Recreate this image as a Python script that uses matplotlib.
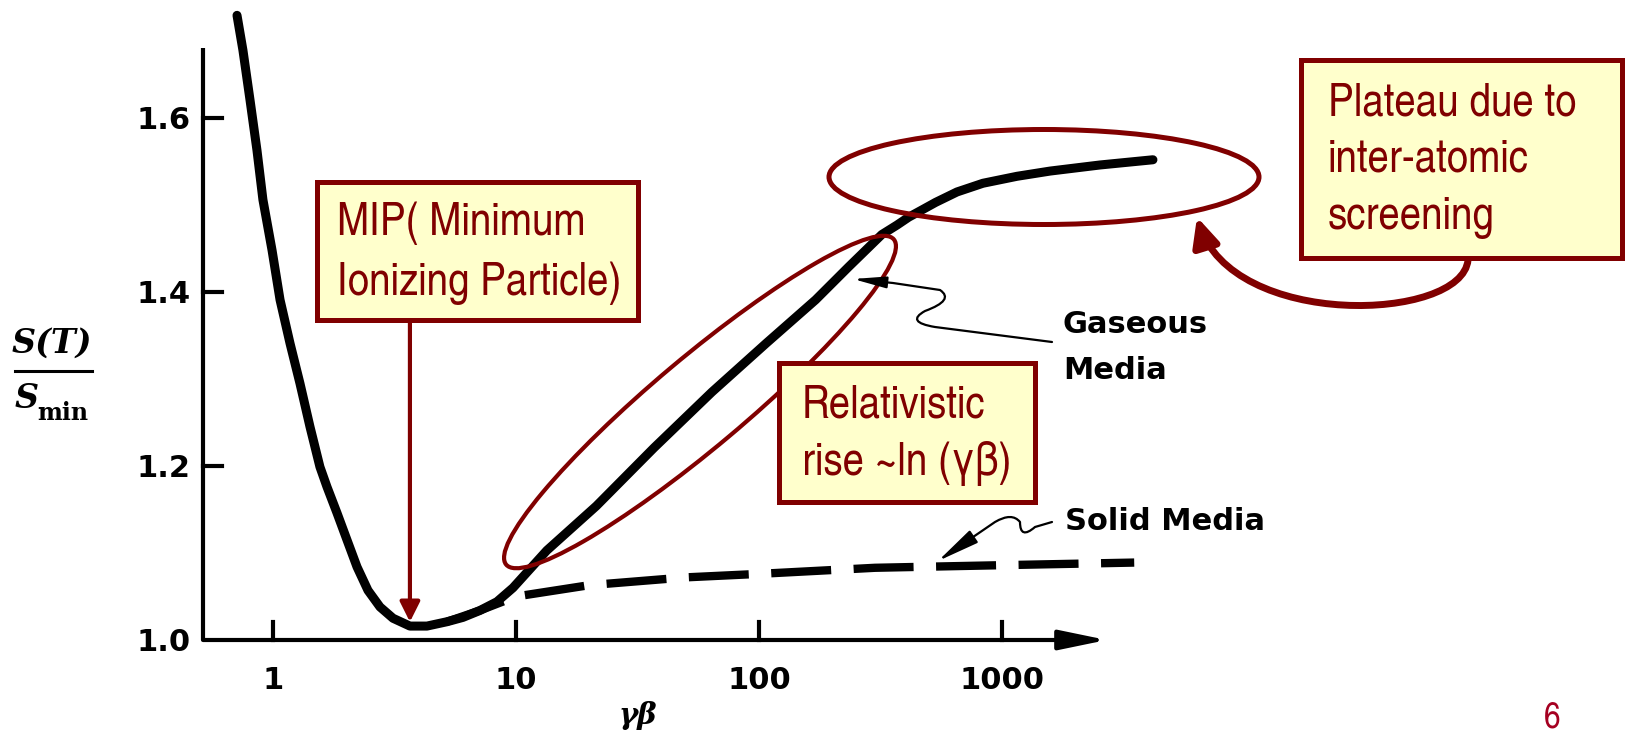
import matplotlib
matplotlib.use("Agg")
from matplotlib import pyplot as plt
from matplotlib import font_manager
from matplotlib.patches import Ellipse, Rectangle, FancyArrowPatch
from matplotlib.path import Path

# --- data (gamma*beta, S/Smin) ---
gas_x = [0.711, 0.752, 0.804, 0.859, 0.909, 0.991, 1.069, 1.175, 1.291, 1.42,
         1.56, 1.668, 1.834, 2.016, 2.217, 2.46, 2.756, 3.118, 3.66, 4.30,
         5.20, 6.05, 7.11, 8.35, 9.72, 13.4, 21.4, 37, 64, 107, 171, 234, 320,
         370, 413, 473, 533, 653, 835, 1153, 1577, 2530, 4180]
gas_y = [1.718, 1.678, 1.621, 1.563, 1.506, 1.448, 1.391, 1.341, 1.295, 1.245,
         1.199, 1.176, 1.146, 1.115, 1.084, 1.057, 1.038, 1.025, 1.016, 1.016,
         1.021, 1.026, 1.034, 1.044, 1.060, 1.103, 1.154, 1.221, 1.285, 1.341,
         1.391, 1.429, 1.466, 1.477, 1.486, 1.495, 1.503, 1.515, 1.525, 1.533,
         1.539, 1.546, 1.552]

solid_x = [5.2, 7.11, 10, 20, 50, 100, 300, 1000, 3500]
solid_y = [1.021, 1.034, 1.050, 1.063, 1.072, 1.076, 1.083, 1.086, 1.089]

yticks = [1.0, 1.2, 1.4, 1.6]
yticklabels = ["1.0", "1.2", "1.4", "1.6"]
xticks = [1, 10, 100, 1000]
xticklabels = ["1", "10", "100", "1000"]

MAROON = "#800000"
BOXFILL = "#FFFFCC"

# pick a condensed face for the slide callouts (Arial Narrow look-alike)
names = {f.name for f in font_manager.fontManager.ttflist}
wanted = ["Liberation Sans Narrow", "Arial Narrow", "Nimbus Sans Narrow",
          "TeX Gyre Heros Cn", "Roboto Condensed", "Archivo Narrow",
          "PT Sans Narrow"]
found = [n for n in wanted if n in names]
if not found:
    found = sorted(n for n in names if "Narrow" in n or "Condensed" in n)
NARROW = found[:1] + ["DejaVu Sans"]

W, H = 1632, 738
fig = plt.figure(figsize=(W / 100.0, H / 100.0), dpi=100)

# data axes over the whole figure; gamma*beta=1 at x=273px, 243px per decade,
# S/Smin=1 at 640px from top, 870px per unit
x0, dec = 273.0, 243.0
y0, unit = 640.0, 870.0
ax = fig.add_axes([0, 0, 1, 1])
ax.set_xscale("log")
ax.set_xlim(10 ** (-x0 / dec), 10 ** ((W - x0) / dec))
ax.set_ylim(1 - (H - y0) / unit, 1 + y0 / unit)
ax.axis("off")

xa = 10 ** ((203 - x0) / dec)      # where the vertical axis stands
ytop = 1.681
xtip = 2700

# hand drawn style axes
ax.plot([xa, xa], [1.0, ytop], color="k", lw=3, solid_capstyle="butt")
ax.annotate("", xy=(xtip, 1.0), xytext=(xa, 1.0),
            arrowprops=dict(arrowstyle="-|>,head_length=2.9,head_width=0.6",
                            lw=3, color="k", shrinkA=0, shrinkB=0))
for t, lbl in zip(yticks, yticklabels):
    if t > 1.0:
        ax.plot([xa, xa * 10 ** (19 / dec)], [t, t], color="k", lw=3)
    ax.annotate(lbl, xy=(xa, t), xytext=(-9, -8.0),
                textcoords="offset points", ha="right", va="baseline",
                fontsize=22, fontweight="bold")
for t, lbl in zip(xticks, xticklabels):
    ax.plot([t, t], [1.0, 1.0 + 18 / unit], color="k", lw=3)
    ax.annotate(lbl, xy=(t, 1.0), xytext=(0, -35),
                textcoords="offset points", ha="center", va="baseline",
                fontsize=22, fontweight="bold")

# curves
ax.plot(gas_x, gas_y, color="k", lw=6.5, solid_capstyle="round",
        solid_joinstyle="round")
ax.plot(solid_x, solid_y, color="k", lw=6, dashes=(7.2, 2.7),
        dash_capstyle="butt")

# MIP arrow down to the minimum
imin = gas_y.index(min(gas_y))
ax.annotate("", xy=(gas_x[imin], gas_y[imin]),
            xytext=(gas_x[imin], 1 + (y0 - 322) / unit),
            arrowprops=dict(arrowstyle="-|>,head_length=1.2,head_width=0.6",
                            lw=3, color=MAROON, shrinkA=0, shrinkB=3))

# overlay in pixel units (y pointing down) for the annotations
ov = fig.add_axes([0, 0, 1, 1])
ov.set_xlim(0, W)
ov.set_ylim(H, 0)
ov.axis("off")
ov.set_facecolor("none")

# size the callout font so the lines are as wide as on the slide
renderer = fig.canvas.get_renderer()
ratios = []
for s, w in [("MIP( Minimum", 248), ("Relativistic", 182), ("Plateau due to", 253)]:
    t = ov.text(0, 0, s, fontsize=32, family=NARROW)
    ratios.append(w / t.get_window_extent(renderer).width)
    t.remove()
BOXSIZE = 32 * sum(ratios) / len(ratios)

# axis titles
ov.text(52, 353, "S(T)", ha="center", va="baseline", fontsize=24,
        family="DejaVu Serif", style="italic", fontweight="bold")
ov.plot([15, 92], [371, 371], color="k", lw=2.2)
ov.text(15, 408, "S", ha="left", va="baseline", fontsize=24,
        family="DejaVu Serif", style="italic", fontweight="bold")
ov.text(37, 420, "min", ha="left", va="baseline", fontsize=17,
        family="DejaVu Serif", fontweight="bold")
ov.text(638, 724, "γβ", ha="center", va="baseline", fontsize=21,
        family="DejaVu Serif", style="italic", fontweight="bold")

# ellipses
ov.add_patch(Ellipse((700, 402), 506, 90, angle=-40, fill=False,
                     ec=MAROON, lw=3))
ov.add_patch(Ellipse((1044, 177), 430, 95, fill=False, ec=MAROON, lw=3.6))

# boxes
def box(x, y, w, h, lines, baselines, tx):
    ov.add_patch(Rectangle((x, y), w, h, fc=BOXFILL, ec=MAROON, lw=3.6))
    for s, b in zip(lines, baselines):
        ov.text(tx, b, s, ha="left", va="baseline", fontsize=BOXSIZE,
                color=MAROON, family=NARROW)

box(317, 182, 321, 138, ["MIP( Minimum", "Ionizing Particle)"], [235, 295], 337)
box(779, 363, 256, 139, ["Relativistic", "rise ~ln (γβ)"], [418, 475], 802)
box(1301, 60, 321, 198, ["Plateau due to", "inter-atomic", "screening"],
    [115, 172, 229], 1328)

# curved arrow from plateau box to the ellipse
p = Path([(1468, 260), (1462, 322), (1232, 330), (1197, 217)],
         [Path.MOVETO, Path.CURVE4, Path.CURVE4, Path.CURVE4])
ov.add_patch(FancyArrowPatch(path=p, arrowstyle="-|>,head_length=1.7,head_width=0.8",
                             mutation_scale=10, lw=5, color=MAROON))

# media labels with squiggly leaders
ov.text(1063, 333, "Gaseous", fontsize=22, fontweight="bold", va="baseline")
ov.text(1063, 379, "Media", fontsize=22, fontweight="bold", va="baseline")
ov.text(1065, 530, "Solid Media", fontsize=22, fontweight="bold", va="baseline")

g = Path([(1052, 342), (935, 327), (905, 322), (925, 311), (955, 300),
          (940, 290), (893, 283), (853, 279)],
         [Path.MOVETO, Path.LINETO, Path.CURVE3, Path.CURVE3, Path.CURVE3,
          Path.CURVE3, Path.LINETO, Path.LINETO])
ov.add_patch(FancyArrowPatch(path=g, arrowstyle="-|>,head_length=2.0,head_width=0.35",
                             mutation_scale=10, lw=1.6, color="k"))
s = Path([(1052, 522), (1035, 527), (1020, 540), (1020, 522), (1012, 512),
          (995, 522), (938, 561)],
         [Path.MOVETO, Path.LINETO, Path.CURVE3, Path.CURVE3, Path.CURVE3,
          Path.CURVE3, Path.LINETO])
ov.add_patch(FancyArrowPatch(path=s, arrowstyle="-|>,head_length=2.6,head_width=0.45",
                             mutation_scale=10, lw=1.6, color="k"))

# page number
ov.text(1552, 727, "6", ha="center", va="baseline", fontsize=26,
        color="#A50021", family=NARROW)

fig.savefig("out.png", dpi=100)
